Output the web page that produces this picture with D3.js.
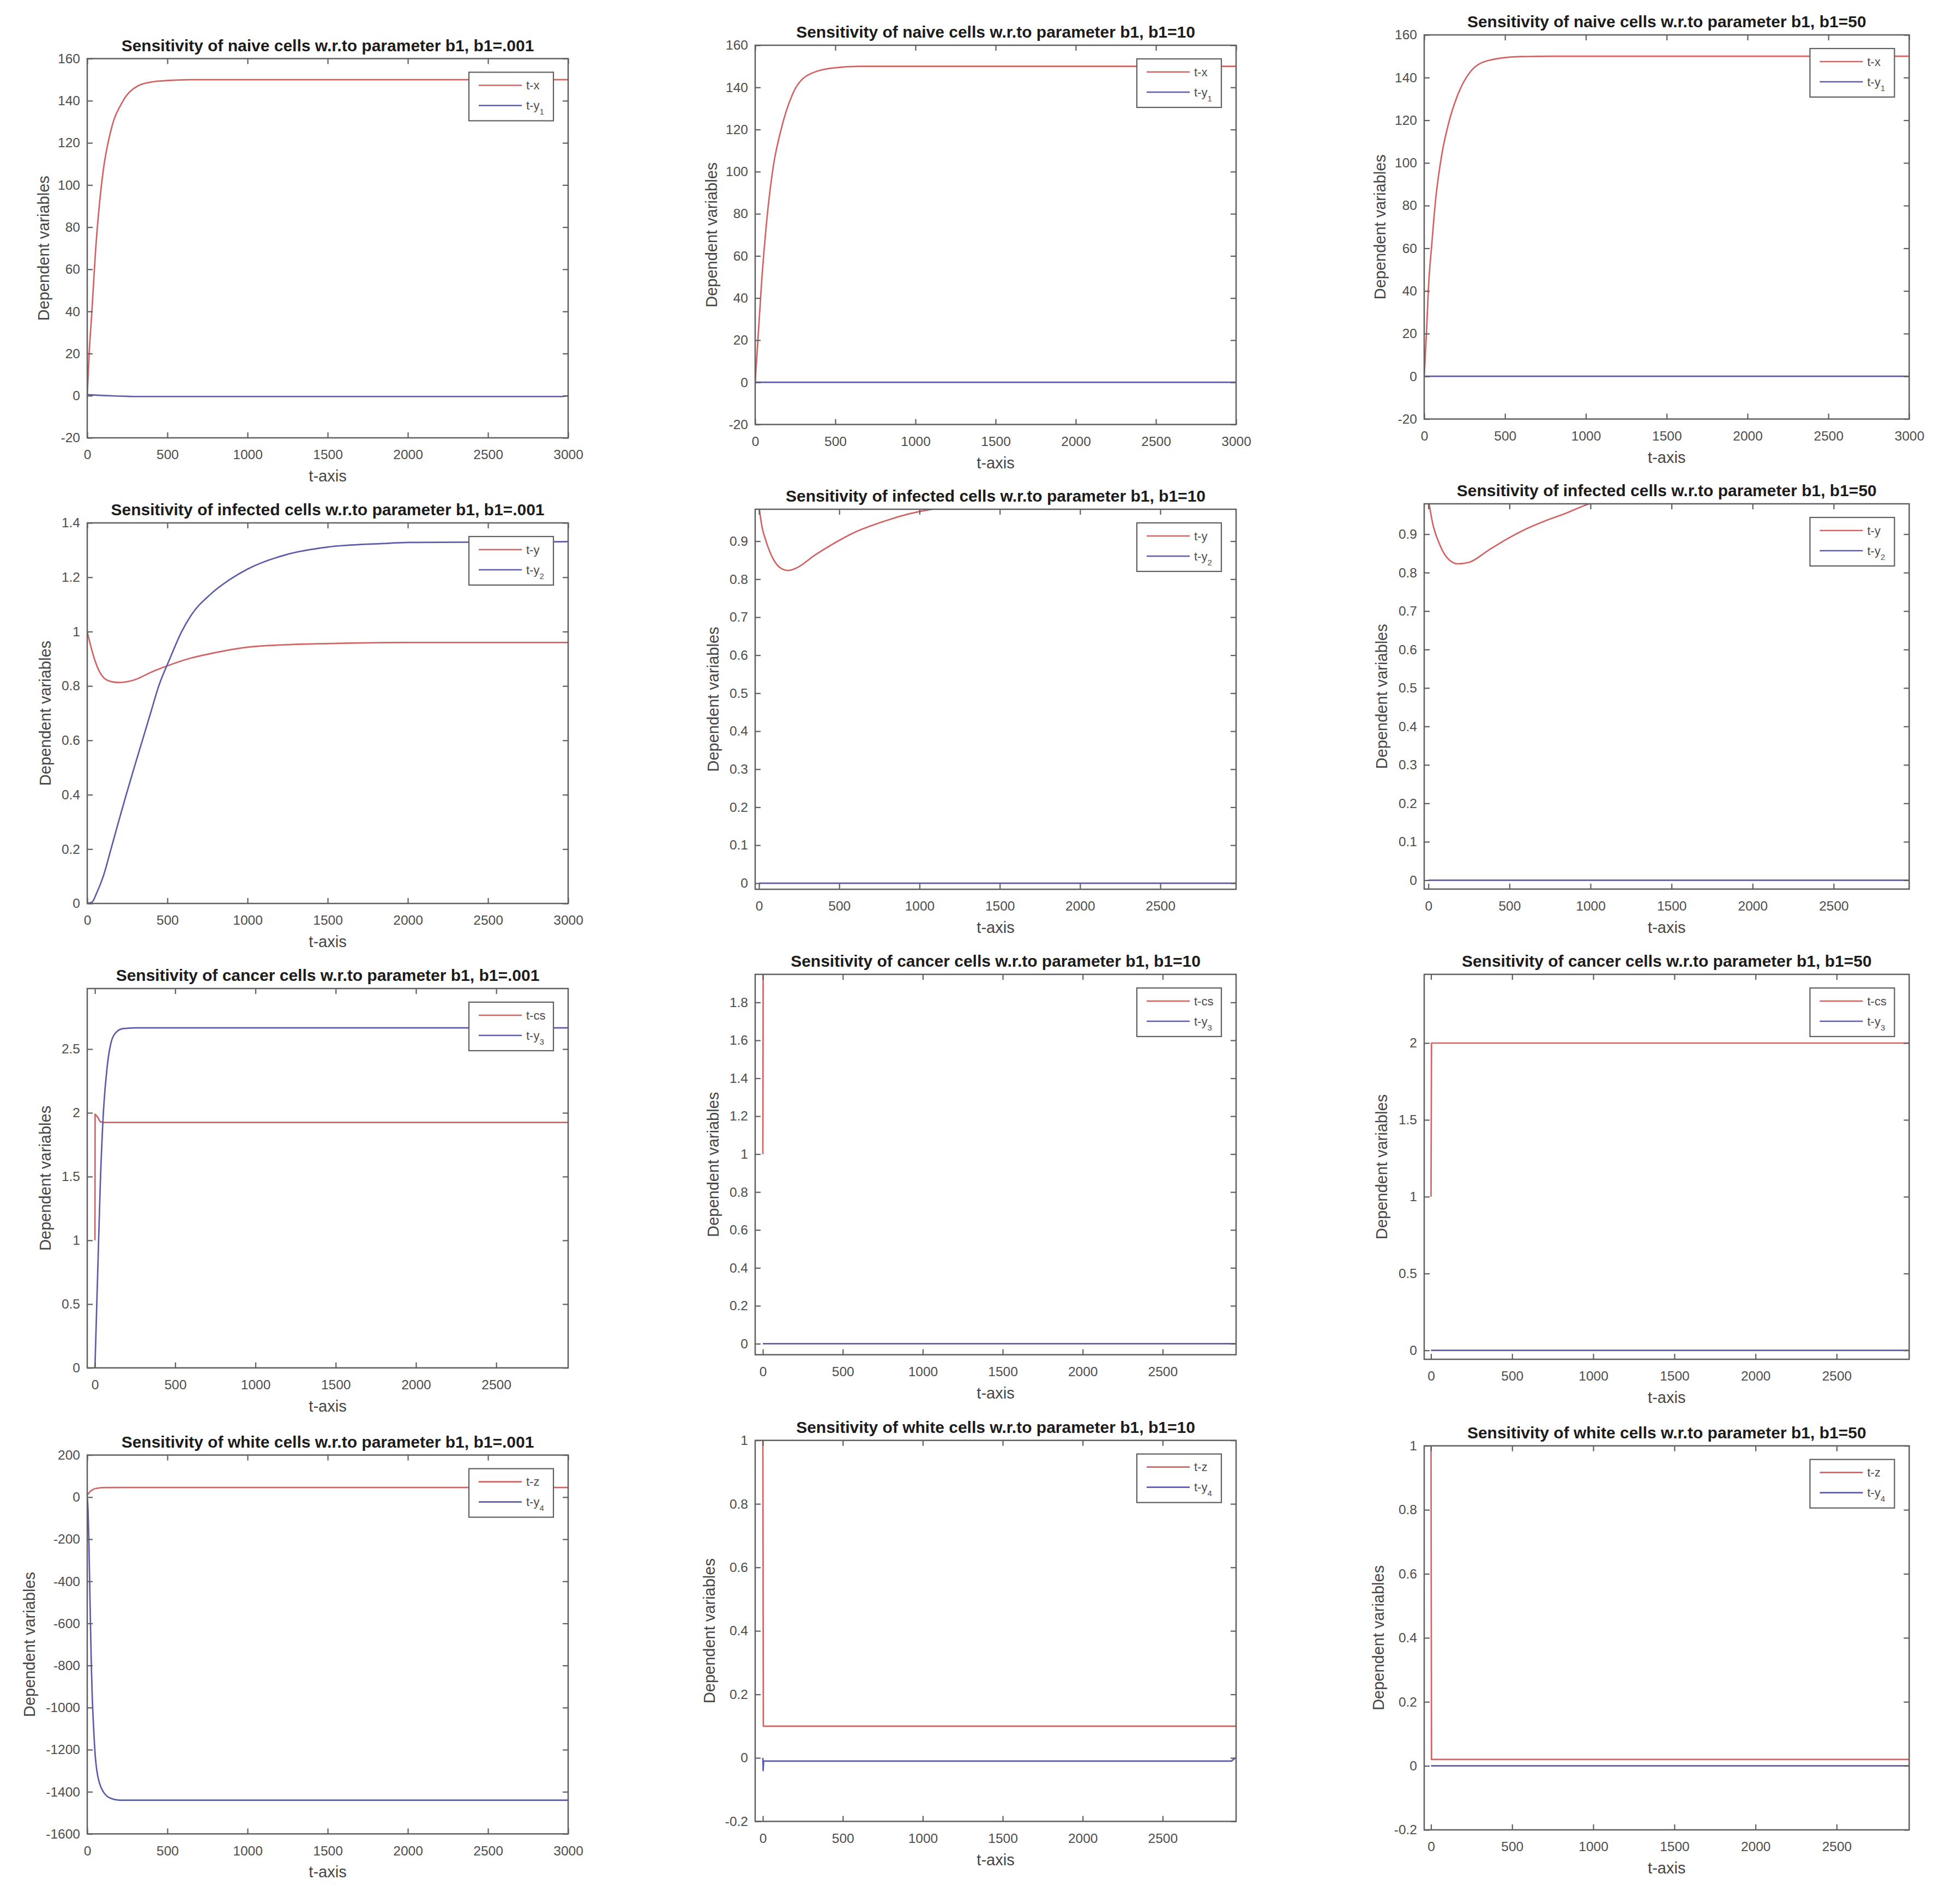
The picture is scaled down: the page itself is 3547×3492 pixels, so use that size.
<!DOCTYPE html>
<html><head><meta charset="utf-8">
<script src="https://cdn.jsdelivr.net/npm/d3@7"></script>
<style>body{margin:0;background:#fff}svg{display:block}</style>
</head><body><svg id="c" width="3547" height="3492"></svg>
<script>
// ---------- text ----------
const titles = [
  "Sensitivity of naive cells w.r.to parameter b1, b1=.001",
  "Sensitivity of naive cells w.r.to parameter b1, b1=10",
  "Sensitivity of naive cells w.r.to parameter b1, b1=50",
  "Sensitivity of infected cells w.r.to parameter b1, b1=.001",
  "Sensitivity of infected cells w.r.to parameter b1, b1=10",
  "Sensitivity of infected cells w.r.to parameter b1, b1=50",
  "Sensitivity of cancer cells w.r.to parameter b1, b1=.001",
  "Sensitivity of cancer cells w.r.to parameter b1, b1=10",
  "Sensitivity of cancer cells w.r.to parameter b1, b1=50",
  "Sensitivity of white cells w.r.to parameter b1, b1=.001",
  "Sensitivity of white cells w.r.to parameter b1, b1=10",
  "Sensitivity of white cells w.r.to parameter b1, b1=50"
];
const xLabel = "t-axis";
const yLabel = "Dependent variables";
const legNaive = [["t-x",""],["t-y","1"]];
const legInf = [["t-y",""],["t-y","2"]];
const legCan = [["t-cs",""],["t-y","3"]];
const legWhite = [["t-z",""],["t-y","4"]];

// ---------- ticks ----------
const ticksX3000 = [0,500,1000,1500,2000,2500,3000];
const ticksX2500 = [0,500,1000,1500,2000,2500];
const ticksYNaive = [-20,0,20,40,60,80,100,120,140,160];
const ticksYInf001 = [0,0.2,0.4,0.6,0.8,1,1.2,1.4];
const ticksYInf = [0,0.1,0.2,0.3,0.4,0.5,0.6,0.7,0.8,0.9];
const ticksYCan001 = [0,0.5,1,1.5,2,2.5];
const ticksYCan10 = [0,0.2,0.4,0.6,0.8,1,1.2,1.4,1.6,1.8];
const ticksYCan50 = [0,0.5,1,1.5,2];
const ticksYWhite001 = [-1600,-1400,-1200,-1000,-800,-600,-400,-200,0,200];
const ticksYWhite = [-0.2,0,0.2,0.4,0.6,0.8,1];

// ---------- series values [t, value] ----------
const naiveX_001 = [[0,0],[12,20],[29,40],[52,69],[76,91],[100,107],[148,126],[220,139.5],[315,147],[410,149],[500,149.6],[650,150],[3000,150]];
const naiveY1_001 = [[0,0.5],[100,0.1],[200,-0.2],[300,-0.4],[2950,-0.4],[3000,0]];
const naiveX_10 = [[0,0],[17,20],[41,48.5],[65,71],[112,102],[160,119.5],[232,136.6],[328,145.8],[495,149.3],[650,150],[3000,150]];
const naiveY1_10 = [[0,0],[3000,0]];
const naiveX_50 = [[0,0],[14,20],[26,41],[47,62],[71,83],[109,104],[149,118],[208,132],[278,142],[396,148],[585,149.8],[800,150],[3000,150]];
const naiveY1_50 = [[0,0],[3000,0]];

const infY_001 = [[0,1.0],[25,0.94],[52,0.887],[100,0.832],[150,0.816],[196,0.813],[291,0.822],[411,0.854],[499,0.874],[649,0.903],[768,0.919],[1000,0.943],[1250,0.952],[1500,0.956],[2000,0.96],[3000,0.96]];
const infY2_001 = [[0,0],[30,0.005],[60,0.04],[100,0.1],[148,0.2],[195,0.3],[243,0.4],[293,0.5],[344,0.6],[395,0.7],[446,0.8],[515,0.9],[589,1.0],[649,1.061],[768,1.137],[888,1.191],[1000,1.23],[1246,1.284],[1499,1.311],[1842,1.324],[2000,1.328],[3000,1.331]];
const infY_10 = [[0,0.99],[20,0.935],[40,0.905],[90,0.852],[136,0.829],[183,0.823],[231,0.829],[350,0.864],[470,0.895],[589,0.922],[708,0.942],[827,0.959],[946,0.973],[1089,0.985],[1300,0.995],[1600,1.0],[3000,1.0]];
const infY2_10 = [[0,0],[3000,0]];
const infY_50 = [[0,0.99],[28,0.925],[64,0.879],[111,0.841],[181,0.823],[252,0.827],[370,0.858],[487,0.888],[605,0.914],[723,0.935],[840,0.953],[993,0.979],[1100,0.99],[1300,1.0],[3000,1.0]];
const infY2_50 = [[0,0],[3000,0]];

const canCs_001 = [[0,1],[1,1.99],[15,1.97],[33,1.93],[52,1.925],[3000,1.925]];
const canY3_001 = [[0,0],[17,0.74],[33,1.43],[52,1.99],[76,2.36],[100,2.55],[124,2.62],[172,2.66],[250,2.667],[3000,2.667]];
const canCs_10 = [[0,1],[2,2.0],[3000,2.0]];
const canY3_10 = [[0,0],[3000,0]];
const canCs_50 = [[0,1],[3,2],[3000,2]];
const canY3_50 = [[0,0],[3000,0]];

const whiteZ_001 = [[0,10],[20,28],[40,38],[60,42],[100,45],[200,46],[3000,46]];
const whiteY4_001 = [[0,0],[5,-60],[10,-200],[15,-400],[20,-600],[25,-780],[30,-920],[40,-1100],[50,-1230],[60,-1300],[75,-1355],[100,-1400],[125,-1422],[150,-1432],[200,-1440],[3000,-1440]];
const whiteZ_10 = [[0,1],[3,0.1],[3000,0.1]];
const whiteY4_10 = [[0,0],[2,-0.04],[5,-0.01],[2930,-0.01],[2955,0]];
const whiteZ_50 = [[0,1],[3,0.02],[3000,0.02]];
const whiteY4_50 = [[0,0],[3000,0]];

// ---------- style & layout ----------
const RED = "#d06464", BLUE = "#5c5ca8";
const FONT = "'Liberation Sans', Arial, Helvetica, sans-serif";
const COL1 = {L:160, R:1042}, COL2 = {L:1385, R:2267}, COL3 = {L:2612, R:3501.5};

const panels = [
  {...COL1, T:107.5, B:803, xd:[0,3000], xt:ticksX3000, yd:[-20,160], yt:ticksYNaive, leg:legNaive, yl:80,
    series:[{d:naiveX_001,c:RED,s:1},{d:naiveY1_001,c:BLUE,s:1}]},
  {...COL2, T:83, B:778.5, xd:[0,3000], xt:ticksX3000, yd:[-20,160], yt:ticksYNaive, leg:legNaive, yl:80,
    series:[{d:naiveX_10,c:RED,s:1},{d:naiveY1_10,c:BLUE,s:0}]},
  {...COL3, T:64, B:768.5, xd:[0,3000], xt:ticksX3000, yd:[-20,160], yt:ticksYNaive, leg:legNaive, yl:81,
    series:[{d:naiveX_50,c:RED,s:1},{d:naiveY1_50,c:BLUE,s:0}]},
  {...COL1, T:959, B:1657, xd:[0,3000], xt:ticksX3000, yd:[0,1.4], yt:ticksYInf001, leg:legInf, yl:77,
    series:[{d:infY_001,c:RED,s:1},{d:infY2_001,c:BLUE,s:1}]},
  {...COL2, T:934, B:1631, xd:[-24,2972], xt:ticksX2500, yd:[-0.016,0.984], yt:ticksYInf, leg:legInf, yl:77,
    series:[{d:infY_10,c:RED,s:1},{d:infY2_10,c:BLUE,s:0}]},
  {...COL3, T:924, B:1630.6, xd:[-26,2966], xt:ticksX2500, yd:[-0.023,0.979], yt:ticksYInf, leg:legInf, yl:78,
    series:[{d:infY_50,c:RED,s:1},{d:infY2_50,c:BLUE,s:0}]},
  {...COL1, T:1813, B:2508.7, xd:[-48,2948], xt:ticksX2500, yd:[0,2.975], yt:ticksYCan001, leg:legCan, yl:77,
    series:[{d:canCs_001,c:RED,s:0},{d:canY3_001,c:BLUE,s:1}]},
  {...COL2, T:1787, B:2484.6, xd:[-48,2959], xt:ticksX2500, yd:[-0.058,1.948], yt:ticksYCan10, leg:legCan, yl:77,
    series:[{d:canCs_10,c:RED,s:0},{d:canY3_10,c:BLUE,s:0}]},
  {...COL3, T:1787, B:2493, xd:[-42,2947], xt:ticksX2500, yd:[-0.058,2.447], yt:ticksYCan50, leg:legCan, yl:78,
    series:[{d:canCs_50,c:RED,s:0},{d:canY3_50,c:BLUE,s:0}]},
  {...COL1, T:2668.6, B:3363.4, xd:[0,3000], xt:ticksX3000, yd:[-1600,200], yt:ticksYWhite001, leg:legWhite, yl:106,
    series:[{d:whiteZ_001,c:RED,s:1},{d:whiteY4_001,c:BLUE,s:1}]},
  {...COL2, T:2641.7, B:3340.5, xd:[-48,2959], xt:ticksX2500, yd:[-0.2,1], yt:ticksYWhite, leg:legWhite, yl:84,
    series:[{d:whiteZ_10,c:RED,s:0},{d:whiteY4_10,c:BLUE,s:0}]},
  {...COL3, T:2651.7, B:3356, xd:[-42,2947], xt:ticksX2500, yd:[-0.2,1], yt:ticksYWhite, leg:legWhite, yl:84,
    series:[{d:whiteZ_50,c:RED,s:0},{d:whiteY4_50,c:BLUE,s:0}]}
];

const svg = d3.select("#c");
svg.append("rect").attr("width",3547).attr("height",3492).attr("fill","#fff");
const fmt = v => String(+v.toFixed(3));
const AX = "#5f5f5f", TICKC = "#4d4d4d";

panels.forEach((p, i) => {
  const g = svg.append("g");
  const x = d3.scaleLinear().domain(p.xd).range([p.L, p.R]);
  const y = d3.scaleLinear().domain(p.yd).range([p.B, p.T]);
  const cid = "clip" + i;
  svg.append("clipPath").attr("id", cid).append("rect")
    .attr("x", p.L).attr("y", p.T).attr("width", p.R - p.L).attr("height", p.B - p.T);

  const lg = g.append("g").attr("clip-path", `url(#${cid})`);
  p.series.forEach(s => {
    const line = d3.line().x(d => x(d[0])).y(d => y(d[1]))
      .curve(s.s ? d3.curveMonotoneX : d3.curveLinear);
    lg.append("path").attr("d", line(s.d)).attr("fill","none")
      .attr("stroke", s.c).attr("stroke-width", 2.7).attr("stroke-linejoin","round");
  });

  const styleAxis = sel => {
    sel.select(".domain").remove();
    sel.selectAll(".tick line").attr("stroke", AX).attr("stroke-width", 2.2);
    sel.selectAll(".tick text").attr("fill", TICKC).attr("font-family", FONT).attr("font-size", 24.5);
  };
  g.append("g").attr("transform", `translate(0,${p.B})`)
    .call(d3.axisBottom(x).tickValues(p.xt).tickSize(-10).tickPadding(22).tickFormat(fmt)).call(styleAxis);
  g.append("g").attr("transform", `translate(0,${p.T})`)
    .call(d3.axisTop(x).tickValues(p.xt).tickSize(-10).tickFormat("")).call(styleAxis);
  g.append("g").attr("transform", `translate(${p.L},0)`)
    .call(d3.axisLeft(y).tickValues(p.yt).tickSize(-10).tickPadding(13).tickFormat(fmt)).call(styleAxis);
  g.append("g").attr("transform", `translate(${p.R},0)`)
    .call(d3.axisRight(y).tickValues(p.yt).tickSize(-10).tickFormat("")).call(styleAxis);

  g.append("rect").attr("x", p.L).attr("y", p.T).attr("width", p.R - p.L).attr("height", p.B - p.T)
    .attr("fill","none").attr("stroke", AX).attr("stroke-width", 2.5);

  g.append("text").attr("x", (p.L + p.R) / 2).attr("y", p.T - 14).attr("text-anchor","middle")
    .attr("font-family", FONT).attr("font-weight","bold").attr("font-size", 30).attr("fill","#1c1c1c")
    .text(titles[i]);
  g.append("text").attr("x", (p.L + p.R) / 2).attr("y", p.B + 80).attr("text-anchor","middle")
    .attr("font-family", FONT).attr("font-size", 29).attr("fill","#454545").text(xLabel);
  g.append("text").attr("transform", `translate(${p.L - p.yl},${(p.T + p.B) / 2}) rotate(-90)`)
    .attr("dy","0.35em").attr("text-anchor","middle")
    .attr("font-family", FONT).attr("font-size", 29).attr("fill","#454545").text(yLabel);

  const bx = p.R - 182, by = p.T + 25;
  const lgd = g.append("g").attr("transform", `translate(${bx},${by})`);
  lgd.append("rect").attr("width", 155).attr("height", 89).attr("fill","#fff")
    .attr("stroke", AX).attr("stroke-width", 2.2);
  p.leg.forEach((l, k) => {
    const yy = 24 + k * 37;
    lgd.append("line").attr("x1", 18).attr("x2", 97).attr("y1", yy).attr("y2", yy)
      .attr("stroke", p.series[k].c).attr("stroke-width", 2.7);
    const t = lgd.append("text").attr("x", 105).attr("y", yy).attr("dy","0.35em")
      .attr("font-family", FONT).attr("font-size", 22).attr("fill", TICKC).text(l[0]);
    if (l[1]) t.append("tspan").attr("dy", 9).attr("font-size", 15).text(l[1]);
  });
});
</script></body></html>
